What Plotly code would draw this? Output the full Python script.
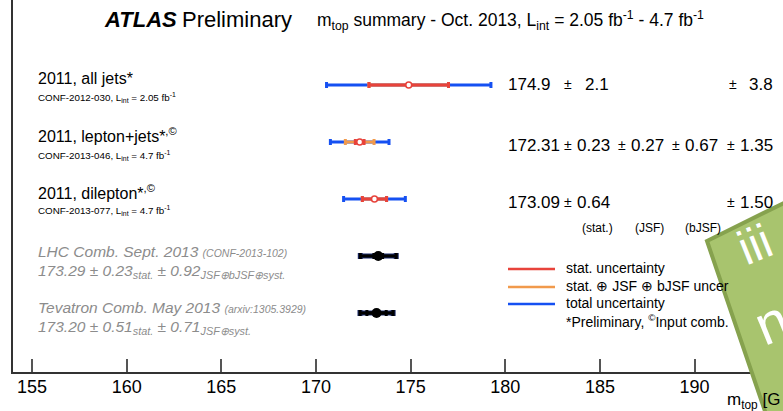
import numpy as np
import plotly.graph_objects as go

# ---------------- data ----------------
meas_names = ["2011, all jets*", "2011, lepton+jets*<sup>,©</sup>", "2011, dilepton*<sup>,©</sup>"]
meas_refs = ["CONF-2012-030, L<sub>int</sub> = 2.05 fb<sup>-1</sup>",
             "CONF-2013-046, L<sub>int</sub> = 4.7 fb<sup>-1</sup>",
             "CONF-2013-077, L<sub>int</sub> = 4.7 fb<sup>-1</sup>"]
meas_mtop = [174.9, 172.31, 173.09]
meas_stat = [2.1, 0.23, 0.64]
meas_jsf = [0.0, 0.27, 0.0]
meas_bjsf = [0.0, 0.67, 0.0]
meas_syst = [3.8, 1.35, 1.50]

comb_mtop = [173.29, 173.20]
comb_stat = [0.23, 0.51]
comb_syst = [0.92, 0.71]

tick_vals = [155, 160, 165, 170, 175, 180, 185, 190]
tick_text = ["155", "160", "165", "170", "175", "180", "185", "190"]

# ---------------- derived ----------------
meas_mtop = np.array(meas_mtop)
s = np.array(meas_stat); j = np.array(meas_jsf); b = np.array(meas_bjsf); sy = np.array(meas_syst)
err_red = s
err_orange = np.sqrt(s**2 + j**2 + b**2)
err_blue = np.sqrt(s**2 + j**2 + b**2 + sy**2)
comb_tot = np.sqrt(np.array(comb_stat)**2 + np.array(comb_syst)**2)

meas_y = [5, 4, 3]
comb_y = [2, 1]

RED = "#e8433b"
ORANGE = "#f19a4c"
BLUE = "#1550f2"
FONT = "Liberation Sans, Arial, Helvetica, sans-serif"

# pixel -> paper helpers (plot area: x 13..783, y 0..372)
def px(x):
    return (x - 13) / 770.0

def py(y):
    return (372 - y) / 372.0

fig = go.Figure()

def bar(xv, yv, err, color, thick=3, cap=3):
    fig.add_trace(go.Scatter(
        x=list(xv), y=list(yv), mode="markers",
        marker=dict(size=0.1, color=color, opacity=0),
        error_x=dict(type="data", array=list(err), symmetric=True,
                     color=color, thickness=thick, width=cap),
        showlegend=False, hoverinfo="skip"))

bar(meas_mtop, meas_y, err_blue, BLUE)
bar(meas_mtop, meas_y, err_orange, ORANGE)
bar(meas_mtop, meas_y, err_red, RED)
fig.add_trace(go.Scatter(
    x=list(meas_mtop), y=meas_y, mode="markers",
    marker=dict(symbol="circle", size=6, color="white", line=dict(color=RED, width=1.6)),
    showlegend=False, hoverinfo="skip"))

# combinations
bar(comb_mtop, comb_y, comb_tot, "#1b2a6b", thick=5, cap=3)
bar(comb_mtop, comb_y, comb_tot, "black", thick=3, cap=3)
bar(comb_mtop, comb_y, comb_stat, "black", thick=3, cap=3)
fig.add_trace(go.Scatter(
    x=comb_mtop, y=comb_y, mode="markers",
    marker=dict(symbol="circle", size=10, color="black"),
    showlegend=False, hoverinfo="skip"))

ann = []

def txt(x, y, t, size, color="black", anchor="left", angle=0):
    ann.append(dict(x=px(x), y=py(y), xref="paper", yref="paper", text=t,
                    showarrow=False, xanchor=anchor, yanchor="middle",
                    textangle=angle,
                    font=dict(family=FONT, size=size, color=color)))

# header
txt(102, 20, "<b><i>ATLAS</i></b>", 22)
txt(180, 20, "Preliminary", 22)
txt(315, 21, "m<sub>top</sub> summary - Oct. 2013, L<sub>int</sub> = 2.05 fb<sup>-1</sup> - 4.7 fb<sup>-1</sup>", 17.5)

# left labels
name_y = [78, 135, 192]
ref_y = [97, 155, 211]
for n, r, ny, ry in zip(meas_names, meas_refs, name_y, ref_y):
    txt(36, ny, n, 16)
    txt(36, ry, r, 9.8)

GRAY = "#8c8c8c"
txt(36, 251, "<i>LHC Comb. Sept. 2013 <span style='font-size:10.5px'>(CONF-2013-102)</span></i>", 15.5, GRAY)
txt(36, 271, "<i>173.29 ± 0.23<sub>stat.</sub> ± 0.92<sub>JSF⊕bJSF⊕syst.</sub></i>", 15.5, GRAY)
txt(36, 307, "<i>Tevatron Comb. May 2013 <span style='font-size:10.5px'>(arxiv:1305.3929)</span></i>", 15.5, GRAY)
txt(36, 327, "<i>173.20 ± 0.51<sub>stat.</sub> ± 0.71<sub>JSF⊕syst.</sub></i>", 15.5, GRAY)

# right numbers
NS = 17
txt(506, 84, "174.9", NS); txt(562, 84, "±", NS - 3); txt(583, 84, "2.1", NS)
txt(727, 84, "±", NS - 3); txt(747, 84, "3.8", NS)
txt(506, 145, "172.31", NS)
for xv, t in zip([562, 616, 670, 725], ["0.23", "0.27", "0.67", "1.35"]):
    txt(xv, 145, "±", NS - 3)
    txt(xv + 13, 145, t, NS)
txt(506, 202, "173.09", NS)
txt(562, 202, "±", NS - 3); txt(575, 202, "0.64", NS)
txt(725, 202, "±", NS - 3); txt(738, 202, "1.50", NS)
txt(580, 228, "(stat.)", 12); txt(633, 228, "(JSF)", 12); txt(683, 228, "(bJSF)", 12)

# legend
shapes = []
for yy, c in zip([269, 287, 304], [RED, ORANGE, BLUE]):
    shapes.append(dict(type="line", xref="paper", yref="paper",
                       x0=px(508), x1=px(555), y0=py(yy), y1=py(yy),
                       line=dict(color=c, width=2.5)))
txt(564, 268, "stat. uncertainty", 14)
txt(564, 286, "stat. ⊕ JSF ⊕ bJSF uncer", 14)
txt(564, 303, "total uncertainty", 14)
txt(564, 321, "*Preliminary, <sup>©</sup>Input comb.", 14)

# axis title
txt(725, 401, "m<sub>top</sub> [G", 17)

# green overlay
path = "M {} {} L {} {} L {} {} L {} {} Z".format(
    px(707), py(241), px(790), py(200), px(790), py(420), px(768), py(420))
shapes.append(dict(type="path", path=path, xref="paper", yref="paper",
                   fillcolor="#a8c46e", line=dict(color="#86a24e", width=4), layer="above"))

fig.update_layout(
    width=783, height=411,
    margin=dict(l=13, r=0, t=0, b=39, pad=0),
    paper_bgcolor="white", plot_bgcolor="white",
    showlegend=False,
    annotations=ann,
    shapes=shapes,
    xaxis=dict(range=[153.996, 194.67], tickvals=tick_vals, ticktext=tick_text,
               ticks="inside", ticklen=13, tickwidth=1.5, tickcolor="#555",
               showline=True, linecolor="#333", linewidth=2,
               showgrid=False, zeroline=False, ticklabelstandoff=-3,
               tickfont=dict(family=FONT, size=18, color="black")),
    yaxis=dict(range=[-0.035, 6.491], showticklabels=False, ticks="",
               showline=True, linecolor="#333", linewidth=2,
               showgrid=False, zeroline=False),
)

# white overlay text on the green note
fig.add_annotation(x=px(782), y=py(278), xref="paper", yref="paper", text="iii",
                   showarrow=False, textangle=-22,
                   font=dict(family=FONT, size=48, color="white"))
fig.add_annotation(x=px(800), y=py(360), xref="paper", yref="paper", text="n",
                   showarrow=False, textangle=-22,
                   font=dict(family=FONT, size=56, color="white"))

fig.write_html("out.html",
               config={"displayModeBar": False},
               post_script="document.body.style.margin='0px';document.body.style.overflow='hidden';")
